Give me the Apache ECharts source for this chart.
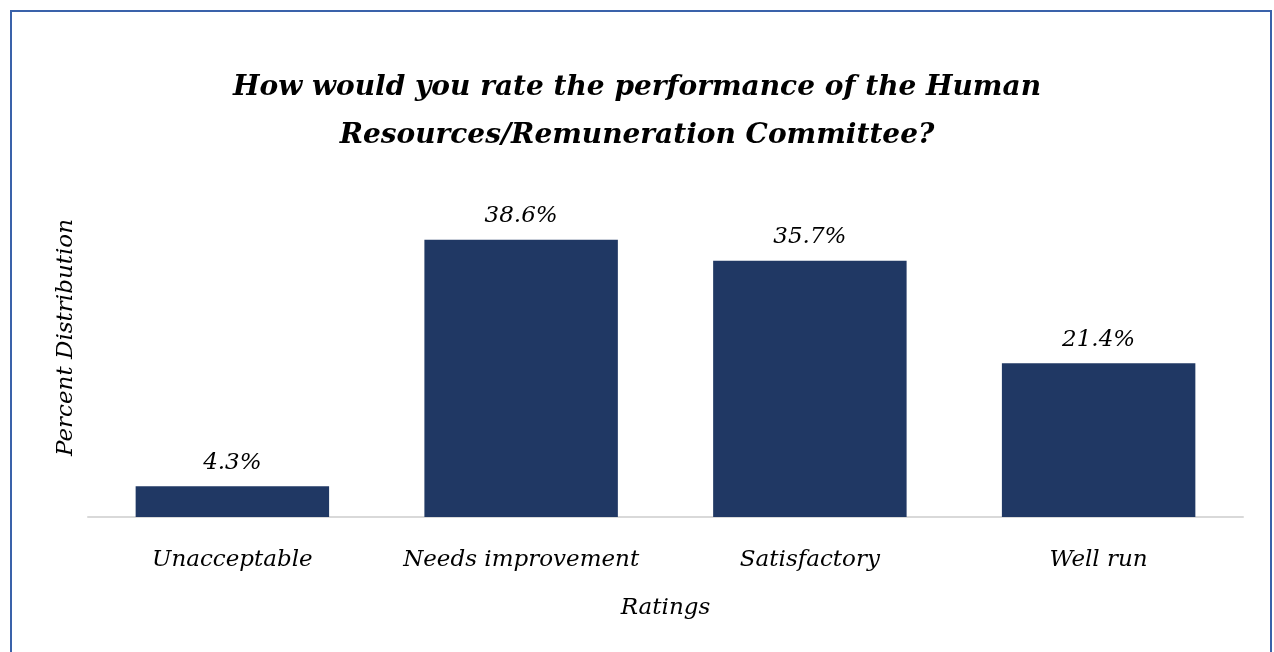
<!DOCTYPE html>
<html>
<head>
<meta charset="utf-8">
<script src="https://cdn.jsdelivr.net/npm/echarts@6/dist/echarts.min.js"></script>
<style>
  html, body { margin: 0; padding: 0; background: #ffffff; }
  #chart { width: 1274px; height: 652px; }
</style>
</head>
<body>
<div id="chart"></div>
<script>
// Survey results: rating of the Human Resources/Remuneration Committee
const titleText = 'How would you rate the performance of the Human\nResources/Remuneration Committee?';
const categories = ['Unacceptable', 'Needs improvement', 'Satisfactory', 'Well run'];
const percentValues = [4.3, 38.6, 35.7, 21.4];
const xAxisTitle = 'Ratings';
const yAxisTitle = 'Percent Distribution';

const serif = '"DejaVu Serif", "Liberation Serif", serif';

const chart = echarts.init(document.getElementById('chart'), null, { renderer: 'canvas' });

chart.setOption({
  backgroundColor: '#ffffff',
  animation: false,
  graphic: [{
    type: 'rect',
    silent: true,
    shape: { x: 11, y: 11, width: 1260, height: 700 },
    style: { fill: 'none', stroke: '#3a62aa', lineWidth: 2 }
  }],
  title: {
    text: titleText,
    left: 'center',
    top: 59,
    textStyle: {
      fontFamily: serif,
      fontStyle: 'italic',
      fontWeight: 'bold',
      fontSize: 28,
      lineHeight: 48,
      color: '#000000'
    }
  },
  grid: {
    left: 88,
    right: 31,
    top: 158,
    bottom: 135,
    containLabel: false
  },
  xAxis: {
    type: 'category',
    data: categories,
    name: xAxisTitle,
    nameLocation: 'middle',
    nameGap: 80,
    nameTextStyle: { fontFamily: serif, fontStyle: 'italic', fontSize: 23, color: '#000000' },
    axisLine: { show: true, lineStyle: { color: '#d9d9d9', width: 2 } },
    axisTick: { show: false },
    axisLabel: {
      interval: 0,
      margin: 32,
      fontFamily: serif,
      fontStyle: 'italic',
      fontSize: 23,
      color: '#000000'
    }
  },
  yAxis: {
    type: 'value',
    min: 0,
    max: 50,
    interval: 10,
    name: yAxisTitle,
    nameLocation: 'middle',
    nameGap: 10,
    nameRotate: 90,
    nameTextStyle: { fontFamily: serif, fontStyle: 'italic', fontSize: 23, color: '#000000' },
    axisLine: { show: false },
    axisTick: { show: false },
    axisLabel: { show: false },
    splitLine: { show: false }
  },
  series: [{
    type: 'bar',
    data: percentValues,
    barWidth: '67%',
    itemStyle: { color: '#203864' },
    label: {
      show: true,
      position: 'top',
      distance: 12,
      formatter: p => p.value.toFixed(1) + '%',
      fontFamily: serif,
      fontStyle: 'italic',
      fontSize: 23,
      color: '#000000'
    }
  }]
});
</script>
</body>
</html>
